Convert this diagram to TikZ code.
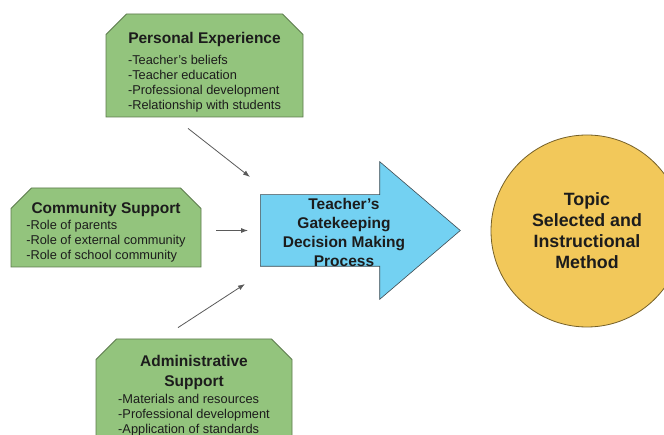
\documentclass[tikz,border=0pt]{standalone}
\usepackage{fontspec}
\setmainfont{Liberation Sans}
\usetikzlibrary{arrows.meta,calc,shapes.misc,shapes.arrows}
\definecolor{leaf}{HTML}{93C47D}
\definecolor{leafline}{HTML}{5B7A4B}
\definecolor{sky}{HTML}{73D1F2}
\definecolor{skyline}{HTML}{3F4A50}
\definecolor{sun}{HTML}{F2C85A}
\definecolor{sunline}{HTML}{756028}
\definecolor{ink}{HTML}{1C1C1C}
\definecolor{wire}{HTML}{5A5A5A}
\newcommand{\titlefont}{\fontsize{15.5}{18}\selectfont\bfseries}
\newcommand{\itemfont}{\fontsize{12.8}{15}\selectfont}
\newcommand{\boxfill}[2]{\phantom{\rule{#1}{#2}}}
\tikzset{
  factor/.style={chamfered rectangle,chamfered rectangle corners={north west,north east},
    chamfered rectangle xsep=17pt,draw=leafline,line width=0.8pt,fill=leaf,inner sep=0pt},
  factortxt/.style={align=center,font=\itemfont,text=ink,inner sep=0pt},
  bigarrow/.style={single arrow,single arrow head extend=33pt,single arrow tip angle=81,
    minimum width=137pt,minimum height=200pt,inner sep=0pt,draw=skyline,fill=sky,line width=0.6pt},
  gatetxt/.style={align=center,font=\fontsize{15.5}{19}\selectfont\bfseries,text=ink,inner sep=0pt},
  result/.style={circle,minimum size=192pt,draw=sunline,fill=sun,line width=0.8pt,
    align=center,font=\fontsize{17.8}{21}\selectfont\bfseries,text=ink},
  link/.style={-{Latex[length=7pt,width=5pt]},line width=0.8pt,draw=wire},
}

\begin{document}
\begin{tikzpicture}[x=1pt,y=-1pt]
  \useasboundingbox (0,0) rectangle (664,435);
  \clip (0,0) rectangle (664,435);
  \fill[white] (0,0) rectangle (664,435);
  % three influences
  \node[factor,minimum width=197pt,minimum height=103pt](pers) at (204.5,65.5){\boxfill{150pt}{70pt}};
  \node[factortxt](pers-txt) at ($(pers.center)+(0,7.5)$)
    {{\titlefont Personal Experience}\\[6pt]
     \begin{tabular}{@{}l@{}}-Teacher's beliefs\\-Teacher education\\-Professional development\\-Relationship with students\end{tabular}};
  \node[factor,minimum width=190pt,minimum height=79pt](comm) at (106,227.5){\boxfill{150pt}{50pt}};
  \node[factortxt](comm-txt) at ($(comm.center)+(0,5.5)$)
    {{\titlefont Community Support}\\[2pt]
     \begin{tabular}{@{}l@{}}-Role of parents\\-Role of external community\\-Role of school community\end{tabular}};
  \node[factor,minimum width=196pt,minimum height=110pt](admin) at (194,394){\boxfill{150pt}{76pt}};
  \node[factortxt](admin-txt) at ($(admin.center)+(0,2.5)$)
    {{\titlefont Administrative}\\[5pt]{\titlefont Support}\\[2pt]
     \begin{tabular}{@{}l@{}}-Materials and resources\\-Professional development\\-Application of standards\end{tabular}};
  % the decision process
  \node[bigarrow,anchor=tail](gate) at (260,230.5){\rule{0pt}{71pt}};
  \node[gatetxt](gate-txt) at ($(gate.tail)+(84,1.5)$){Teacher's\\Gatekeeping\\Decision Making\\Process};
  \node[result](topic) at (587,231){Topic\\Selected and\\Instructional\\Method};
  \draw[link]($(pers.south)+(-16.5,11)$)--($(gate.tail)+(-10,-53.5)$);
  \draw[link]($(comm.east)+(15,3)$)--($(gate.tail)+(-12,0)$);
  \draw[link]($(admin.north)+(-16,-11)$)--($(gate.tail)+(-15,53.5)$);
\end{tikzpicture}
\end{document}
